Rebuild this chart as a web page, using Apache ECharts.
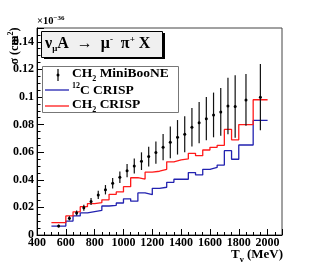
<!DOCTYPE html>
<html>
<head>
<meta charset="utf-8">
<script src="https://cdn.jsdelivr.net/npm/echarts@6/dist/echarts.min.js"></script>
<style>
html,body{margin:0;padding:0;background:#fff;}
#chart{width:315px;height:276px;}
</style>
</head>
<body>
<div id="chart"></div>
<script>
// ---- data ----
const binEdges = [500,600,650,700,750,800,850,900,950,1000,1050,1100,1150,1200,1250,1300,1350,1400,1450,1500,1550,1600,1650,1700,1750,1800,1900,2000];
const ch2Crisp = [0.0089,0.0138,0.0168,0.0205,0.0228,0.0235,0.0255,0.0295,0.0312,0.0350,0.0415,0.0405,0.0455,0.0462,0.0476,0.0530,0.0544,0.0551,0.0592,0.0575,0.0616,0.0635,0.0650,0.0765,0.0690,0.0800,0.0980];
const c12Crisp = [0.0065,0.0101,0.0138,0.0160,0.0170,0.0178,0.0210,0.0215,0.0232,0.0262,0.0245,0.0305,0.0292,0.0338,0.0346,0.0382,0.0404,0.0404,0.0452,0.0435,0.0476,0.0490,0.0507,0.0611,0.0549,0.0652,0.0830];
const dataE = [550,625,675,725,775,825,875,925,975,1025,1075,1125,1175,1225,1275,1325,1375,1425,1475,1525,1575,1625,1675,1725,1775,1850,1950];
const dataSigma = [0.0065,0.0121,0.0160,0.0198,0.0243,0.0290,0.0328,0.0375,0.0418,0.0466,0.0500,0.0535,0.0568,0.0597,0.0636,0.0672,0.0708,0.0730,0.0781,0.0814,0.0843,0.0870,0.0892,0.0935,0.0931,0.0979,0.0999];
const dataErr = [0.0010,0.0015,0.0018,0.0022,0.0026,0.0030,0.0034,0.0038,0.0042,0.0048,0.0054,0.0064,0.0072,0.0080,0.0095,0.0115,0.0125,0.0130,0.0140,0.0150,0.0157,0.0162,0.0173,0.0205,0.0226,0.0187,0.0240];
const xTickLabels = ['400','600','800','1000','1200','1400','1600','1800','2000'];
const yTickLabels = ['0','0.02','0.04','0.06','0.08','0.1','0.12','0.14'];

function stepLine(edges, vals){
  const out = [];
  for (let i = 0; i < vals.length; i++){
    out.push([edges[i], vals[i]]);
    out.push([edges[i+1], vals[i]]);
  }
  return out;
}

const F = '"Liberation Serif", "Times New Roman", serif';
const chart = echarts.init(document.getElementById('chart'), null, {renderer:'canvas'});

const option = {
  animation: false,
  backgroundColor: '#fff',
  grid: {left: 37, right: 33, top: 28, bottom: 41, show: true, borderColor: '#444', borderWidth: 1, backgroundColor: 'transparent', containLabel: false, outerBoundsMode: 'none'},
  xAxis: {
    type: 'value', min: 400, max: 2100, interval: 200,
    axisLine: {show: true, onZero: false, lineStyle: {color: '#000', width: 1}},
    axisTick: {show: true, inside: true, length: 6, lineStyle: {color: '#000'}},
    minorTick: {show: true, splitNumber: 4, length: 3, lineStyle: {color: '#000'}},
    splitLine: {show: false},
    axisLabel: {show: true, margin: 2, fontFamily: F, fontWeight: 'bold', fontSize: 12, color: '#000', showMaxLabel: false,
      formatter: function(v){ const i = xTickLabels.indexOf(String(v)); return i >= 0 ? xTickLabels[i] : ''; }}
  },
  yAxis: {
    type: 'value', min: 0, max: 0.15, interval: 0.02,
    axisLine: {show: true, onZero: false, lineStyle: {color: '#000', width: 1}},
    axisTick: {show: true, inside: true, length: 7, lineStyle: {color: '#000'}},
    minorTick: {show: true, splitNumber: 4, length: 3.5, lineStyle: {color: '#000'}},
    splitLine: {show: false},
    axisLabel: {show: true, margin: 3, fontFamily: F, fontWeight: 'bold', fontSize: 12, color: '#000', showMaxLabel: false,
      formatter: function(v){ const k = Math.round(v / 0.02); if (Math.abs(v - k*0.02) > 1e-9) return ''; return yTickLabels[k] || ''; }}
  },
  series: [
    {type: 'line', name: '12C CRISP', data: stepLine(binEdges, c12Crisp), showSymbol: false, symbol: 'none',
     lineStyle: {color: '#2222b0', width: 1.3}, z: 3},
    {type: 'line', name: 'CH2 CRISP', data: stepLine(binEdges, ch2Crisp), showSymbol: false, symbol: 'none',
     lineStyle: {color: '#ff1a1a', width: 1.3}, z: 4},
    {type: 'custom', name: 'CH2 MiniBooNE', z: 5,
     data: dataE.map((e, i) => [e, dataSigma[i], dataErr[i]]),
     renderItem: function(params, api){
       const x = api.value(0), y = api.value(1), e = api.value(2);
       const top = api.coord([x, y + e]);
       const bot = api.coord([x, y - e]);
       const c = api.coord([x, y]);
       return {type: 'group', children: [
         {type: 'line', shape: {x1: top[0], y1: top[1], x2: bot[0], y2: bot[1]}, style: {stroke: '#111', lineWidth: 1.2}},
         {type: 'circle', shape: {cx: c[0], cy: c[1], r: 1.5}, style: {fill: '#000'}}
       ]};
     }}
  ],
  graphic: [
    // multiplier
    {type: 'text', x: 37, y: 21, style: {text: '{m|×10}{p|−36}', textVerticalAlign: 'middle',
      rich: {m: {fontFamily: F, fontWeight: 'bold', fontSize: 10.5, fill: '#000', verticalAlign: 'bottom', lineHeight: 12},
             p: {fontFamily: F, fontWeight: 'bold', fontSize: 7, fill: '#000', verticalAlign: 'top', lineHeight: 12}}}},
    // y title
    {type: 'text', x: 14, y: 46, rotation: Math.PI/2, style: {text: '{b|σ (cm}{p|2}{b|)}', textAlign: 'center', textVerticalAlign: 'middle',
      rich: {b: {fontFamily: F, fontWeight: 'bold', fontSize: 12, fill: '#000', verticalAlign: 'bottom', lineHeight: 14},
             p: {fontFamily: F, fontWeight: 'bold', fontSize: 8, fill: '#000', verticalAlign: 'top', lineHeight: 14}}}},
    // x title
    {type: 'text', x: 283, y: 256, style: {text: '{b|T}{s|ν}{b| (MeV)}', textAlign: 'right', textVerticalAlign: 'middle',
      rich: {b: {fontFamily: F, fontWeight: 'bold', fontSize: 13, fill: '#000', verticalAlign: 'top', lineHeight: 16},
             s: {fontFamily: F, fontWeight: 'bold', fontSize: 9, fill: '#000', verticalAlign: 'bottom', lineHeight: 16}}}},
    // title box shadow + box
    {type: 'rect', shape: {x: 44, y: 33, width: 121, height: 26}, style: {fill: '#000'}, z: 10},
    {type: 'rect', shape: {x: 41.5, y: 31.5, width: 121, height: 26}, style: {fill: '#f0f0f0', stroke: '#000', lineWidth: 1}, z: 11},
    {type: 'text', x: 45, y: 44, z: 12, style: {text: '{b|ν}{s|μ}{b|A}{g| }{a|→}{g| }{b|μ}{p|-}{g| }{b|π}{p|+}{b| X}', textVerticalAlign: 'middle',
      rich: {b: {fontFamily: F, fontWeight: 'bold', fontSize: 16, fill: '#000', verticalAlign: 'middle', lineHeight: 18},
             g: {fontFamily: F, fontSize: 16, fill: '#000', verticalAlign: 'middle', lineHeight: 18, width: 8},
             a: {fontFamily: F, fontSize: 16, fill: '#000', verticalAlign: 'middle', lineHeight: 18},
             s: {fontFamily: F, fontWeight: 'bold', fontSize: 9, fill: '#000', verticalAlign: 'bottom', lineHeight: 18},
             p: {fontFamily: F, fontWeight: 'bold', fontSize: 9, fill: '#000', verticalAlign: 'top', lineHeight: 18}}}},
    // legend box
    {type: 'rect', shape: {x: 42.5, y: 66.5, width: 136, height: 46}, style: {fill: '#fff', stroke: '#777', lineWidth: 1}, z: 10},
    {type: 'line', shape: {x1: 58, y1: 69, x2: 58, y2: 81}, style: {stroke: '#000', lineWidth: 1.2}, z: 11},
    {type: 'circle', shape: {cx: 58, cy: 75, r: 1.5}, style: {fill: '#000'}, z: 11},
    {type: 'line', shape: {x1: 45, y1: 90, x2: 69, y2: 90}, style: {stroke: '#2222b0', lineWidth: 1.3}, z: 11},
    {type: 'line', shape: {x1: 45, y1: 106, x2: 69, y2: 106}, style: {stroke: '#ff1a1a', lineWidth: 1.3}, z: 11},
    {type: 'text', x: 72, y: 75, z: 12, style: {text: '{b|CH}{s|2}{b| MiniBooNE}', textVerticalAlign: 'middle',
      rich: {b: {fontFamily: F, fontWeight: 'bold', fontSize: 13.5, fill: '#000', verticalAlign: 'top', lineHeight: 16},
             s: {fontFamily: F, fontWeight: 'bold', fontSize: 8, fill: '#000', verticalAlign: 'bottom', lineHeight: 16}}}},
    {type: 'text', x: 72, y: 90, z: 12, style: {text: '{p|12}{b|C CRISP}', textVerticalAlign: 'middle',
      rich: {b: {fontFamily: F, fontWeight: 'bold', fontSize: 13.5, fill: '#000', verticalAlign: 'bottom', lineHeight: 16},
             p: {fontFamily: F, fontWeight: 'bold', fontSize: 8, fill: '#000', verticalAlign: 'top', lineHeight: 16}}}},
    {type: 'text', x: 72, y: 106, z: 12, style: {text: '{b|CH}{s|2}{b| CRISP}', textVerticalAlign: 'middle',
      rich: {b: {fontFamily: F, fontWeight: 'bold', fontSize: 13.5, fill: '#000', verticalAlign: 'top', lineHeight: 16},
             s: {fontFamily: F, fontWeight: 'bold', fontSize: 8, fill: '#000', verticalAlign: 'bottom', lineHeight: 16}}}}
  ]
};
chart.setOption(option);
</script>
</body>
</html>
